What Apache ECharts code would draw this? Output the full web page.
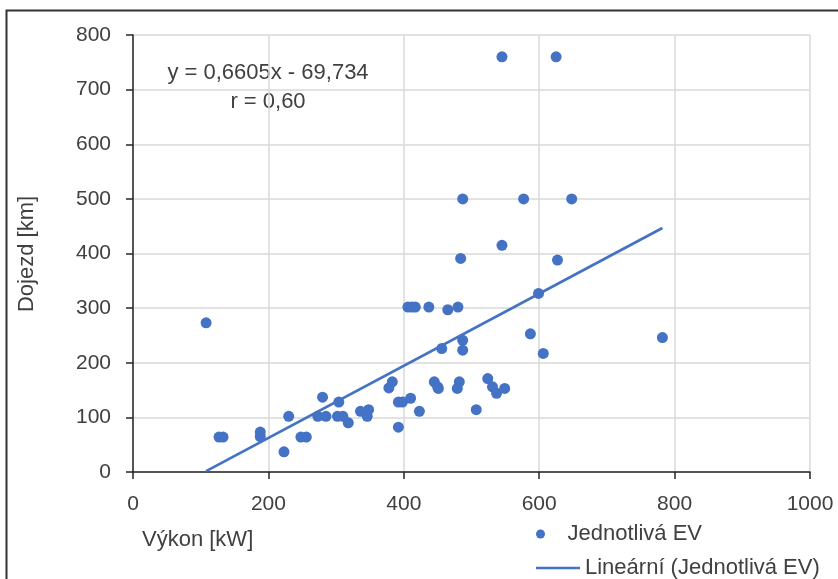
<!DOCTYPE html>
<html lang="cs">
<head>
  <meta charset="UTF-8">
  <title>Výkon vs. dojezd</title>
  <script src="https://cdn.jsdelivr.net/npm/echarts@6/dist/echarts.min.js"></script>
  <style>
    html, body { margin: 0; padding: 0; background: #fff; }
  </style>
</head>
<body>
  <div id="chart" style="width: 838px; height: 579px"></div>
  <script>
    // výkon [kW] a dojezd [km] jednotlivých EV
    const vykon = [108, 127, 133, 188, 188, 223, 230, 248, 256, 273, 280, 285, 302, 304, 310, 318,
      336, 346, 348, 378, 383, 392, 392, 398, 410, 423, 406, 412, 417, 437, 465, 456, 445, 450, 451,
      480, 482, 479, 487, 487, 484, 487, 507, 524, 531, 537, 549, 545, 545, 577, 587, 599, 606, 625,
      627, 648, 782]
    const dojezd = [273, 64, 64, 73, 65, 37, 102, 64, 64, 102, 137, 102, 102, 128, 102, 90,
      111, 102, 114, 154, 165, 128, 82, 128, 135, 111, 302, 302, 302, 302, 297, 226, 165, 156, 153,
      302, 165, 153, 241, 223, 391, 500, 114, 171, 156, 144, 153, 760, 415, 500, 253, 327, 217, 760,
      388, 500, 246]
    // lineární trend z Excelu
    const slope = 0.6605
    const intercept = -69.734
    const rovnice = ['y = 0,6605x - 69,734', 'r = 0,60']
    const xTicks = { min: 0, max: 1000, interval: 200 }
    const yTicks = { min: 0, max: 800, interval: 100 }

    const blue = '#4472C4'
    const textColor = '#404040'
    const font = "'Liberation Sans', Arial, sans-serif"

    let points = vykon.map((x, i) => [x, dojezd[i]])
    let xMin = Math.min(...vykon)
    let xMax = Math.max(...vykon)
    let trend = [[xMin, slope * xMin + intercept], [xMax, slope * xMax + intercept]]

    let axisCommon = {
      type: 'value',
      axisLine: { show: true, lineStyle: { color: '#262626', width: 1.5 } },
      axisTick: { show: true, length: 7, lineStyle: { color: '#262626', width: 1.5 } },
      splitLine: { show: true, lineStyle: { color: '#d9d9d9', width: 1.5 } },
      axisLabel: { color: textColor, fontSize: 21, fontFamily: font, margin: 22, formatter: v => String(v) }
    }

    let legendCommon = {
      left: 531,
      itemWidth: 44,
      textStyle: { color: textColor, fontSize: 22, fontFamily: font }
    }

    let chart = echarts.init(document.querySelector('#chart'))
    chart.setOption({
      animation: false,
      grid: { left: 133, right: 28, top: 35, bottom: 107 },
      xAxis: Object.assign({}, axisCommon, xTicks),
      yAxis: Object.assign({}, axisCommon, yTicks),
      // dvě legendy pod sebou
      legend: [
        Object.assign({}, legendCommon, { top: 518, itemHeight: 9, data: [{ name: 'Jednotlivá EV', icon: 'circle' }] }),
        Object.assign({}, legendCommon, { top: 552, itemHeight: 2.5, data: [{ name: 'Lineární (Jednotlivá EV)', icon: 'rect' }] })
      ],
      graphic: [
        {
          type: 'rect', silent: true,
          shape: { x: 6.5, y: 10.5, width: 900, height: 700 },
          style: { fill: 'none', stroke: '#333', lineWidth: 2 }
        },
        {
          type: 'text', x: 268, y: 73,
          style: { text: rovnice[0], fill: textColor, font: '22px ' + font, textAlign: 'center', textVerticalAlign: 'middle' }
        },
        {
          type: 'text', x: 268, y: 102,
          style: { text: rovnice[1], fill: textColor, font: '22px ' + font, textAlign: 'center', textVerticalAlign: 'middle' }
        },
        {
          type: 'text', x: 142, y: 540,
          style: { text: 'Výkon [kW]', fill: textColor, font: '22px ' + font, textAlign: 'left', textVerticalAlign: 'middle' }
        },
        {
          type: 'text', x: 27, y: 254, rotation: Math.PI / 2,
          style: { text: 'Dojezd [km]', fill: textColor, font: '22px ' + font, textAlign: 'center', textVerticalAlign: 'middle' }
        }
      ],
      series: [
        {
          name: 'Jednotlivá EV',
          type: 'scatter',
          data: points,
          symbol: 'circle',
          symbolSize: 11,
          itemStyle: { color: blue, opacity: 1 }
        },
        {
          name: 'Lineární (Jednotlivá EV)',
          type: 'line',
          data: trend,
          showSymbol: false,
          symbol: 'none',
          lineStyle: { color: blue, width: 2.75 },
          itemStyle: { color: blue }
        }
      ]
    })
  </script>
</body>
</html>
